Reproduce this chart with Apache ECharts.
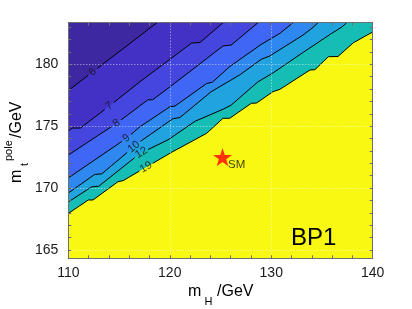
<!DOCTYPE html>
<html><head><meta charset="utf-8">
<script src="https://cdn.jsdelivr.net/npm/echarts@6/dist/echarts.min.js"></script>
<style>html,body{margin:0;padding:0;background:#fff}#c{width:412px;height:309px}</style>
</head><body><div id="c"></div>
<script>
// ---- axis ranges / ticks ----
const X_MIN = 110, X_MAX = 140;
const Y_MIN = 164.33, Y_MAX = 183.36;
const xTickValues = [110, 120, 130, 140];
const yTickValues = [165, 170, 175, 180];

// ---- contour levels and lines (mH [GeV], mt [GeV]) ----
const levels = [6, 7, 8, 9, 10, 12, 19];
const line6  = [[110,177.88],[113,179.76],[116,181.64],[118.74,183.36]];
const line7  = [[110,174.61],[110.4,174.85],[111.2,174.85],[114.04,176.63],[117.07,178.6],[122.16,181.72],[122.98,181.76],[125.25,183.36]];
const line8  = [[110,172.67],[114.75,175.23],[117.82,177.12],[118.32,177.14],[119.83,178.06],[125.25,181.48],[126.06,181.56],[128.7,183.36]];
const line9  = [[110,170.82],[115.73,174.02],[117.07,174.96],[120.02,176.57],[120.52,176.63],[123.64,178.45],[124.2,178.55],[125.9,179.81],[129,181.6],[130.86,182.5],[132.15,183.36]];
const line10 = [[110,169.6],[112.6,171.1],[113.3,171.15],[117.07,173.75],[120.3,175.6],[121.0,175.7],[124.09,177.79],[126.89,179.14],[129.02,180.4],[129.85,180.67],[133.13,182.36],[134.12,182.98],[134.61,183.36]];
const line12 = [[110,168.88],[112.3,170.1],[113,170.15],[117.07,172.8],[119.83,173.9],[122.5,175.4],[125.25,176.37],[126.06,176.71],[128.7,178.59],[130.17,179.3],[133.16,180.97],[135.96,182.5],[136.94,183.0],[137.44,183.36]];
const line19 = [[110,167.95],[111.97,169.04],[112.43,169.04],[114.9,170.52],[115.39,170.6],[120.2,172.9],[123.64,174.43],[125.25,175.64],[125.91,175.64],[128.04,176.85],[128.55,176.87],[130.17,177.79],[130.86,177.98],[133.82,179.54],[134.3,179.56],[135.62,180.61],[136.58,180.63],[138.09,181.74],[140,182.61]];
const contourLines = [line6, line7, line8, line9, line10, line12, line19];
// x position of each contour label along its line
const labelX = [112.4, 114.04, 114.75, 115.73, 116.46, 117.2, 117.66];

// SM point
const smPoint = [125.2, 172.5];
const smName = 'SM';
const panelName = 'BP1';

// colours of the region above each contour line, and the region below the last one
const aboveColors = ['#3d28a2', '#4331c6', '#4546de', '#3f66f4', '#2f88ef', '#21a3df', '#16bdb5'];
const belowColor = '#f8f812';

// ---- layout ----
const G = {left: 68.3, right: 39.3, top: 22.7, bottom: 50.7};
const W = 412, H = 309;
const pxPerX = (W - G.left - G.right) / (X_MAX - X_MIN);
const pxPerY = (H - G.top - G.bottom) / (Y_MAX - Y_MIN);
const FONT = '"Liberation Sans", Arial, Helvetica, sans-serif';

function interp(line, x) {
  for (let i = 0; i < line.length - 1; i++) {
    const a = line[i], b = line[i + 1];
    if (x >= a[0] && x <= b[0]) return a[1] + (b[1] - a[1]) * (x - a[0]) / (b[0] - a[0]);
  }
  return line[line.length - 1][1];
}

const series = [];
// filled bands: polygons from each contour line up to the top edge, highest level first
const bandOrder = contourLines.map((_, i) => [contourLines.length - 1 - i]);
series.push({
  type: 'custom', data: bandOrder, silent: true, z: 2, animation: false, clip: true,
  renderItem: function (params, api) {
    const i = api.value(0);
    const ln = contourLines[i];
    const pts = ln.map(p => api.coord(p));
    pts.push(api.coord([X_MAX, Y_MAX]));
    pts.push(api.coord([X_MIN, Y_MAX]));
    return {type: 'polygon', shape: {points: pts}, style: {fill: aboveColors[i], stroke: null}};
  }
});
// contour strokes with gaps for labels, plus labels
const labelData = [];
contourLines.forEach((ln, i) => {
  const lx = labelX[i];
  const hw = String(levels[i]).length > 1 ? 0.66 : 0.45;
  const x0 = lx - hw, x1 = lx + hw;
  const before = ln.filter(p => p[0] < x0).concat([[x0, interp(ln, x0)]]);
  const after = [[x1, interp(ln, x1)]].concat(ln.filter(p => p[0] > x1));
  [before, after].forEach(seg => series.push({
    type: 'line', data: seg, showSymbol: false, symbol: 'none', silent: true,
    lineStyle: {color: '#000', width: 1}, z: 3, animation: false
  }));
  const ly = interp(ln, lx);
  const sx = 0.9;
  const dy = (interp(ln, lx + sx) - interp(ln, lx - sx)) * pxPerY;
  const dx = 2 * sx * pxPerX;
  const ang = Math.atan2(dy, dx) * 180 / Math.PI;
  labelData.push({value: [lx, ly], label: {rotate: ang, formatter: String(levels[i])}});
});
series.push({
  type: 'scatter', data: labelData, symbolSize: 1, itemStyle: {color: 'rgba(0,0,0,0)'}, silent: true, z: 4,
  label: {show: true, position: 'inside', color: '#111', fontSize: 11, fontFamily: FONT},
  animation: false
});

function starPath() {
  let d = '';
  for (let k = 0; k < 10; k++) {
    const a = (-90 + k * 36) * Math.PI / 180, r = k % 2 ? 0.39 : 1;
    d += (k ? 'L' : 'M') + (50 + 50 * r * Math.cos(a)).toFixed(2) + ' ' + (50 + 50 * r * Math.sin(a)).toFixed(2) + ' ';
  }
  return 'path://' + d + 'Z';
}
series.push({
  type: 'scatter', data: [smPoint], symbol: starPath(), symbolSize: 19, symbolKeepAspect: true,
  itemStyle: {color: '#ff0000'}, z: 5, silent: true, animation: false,
  label: {show: true, formatter: smName, position: [15, 17], align: 'left', verticalAlign: 'middle',
          color: '#111', fontSize: 11.5, fontFamily: FONT}
});

const axisCommon = {
  type: 'value', z: 10,
  axisLine: {show: true, lineStyle: {color: '#6e6e6e', width: 1}},
  axisTick: {show: true, inside: true, length: 3, lineStyle: {color: '#6e6e6e'}},
  minorTick: {show: true, splitNumber: 5, length: 3, lineStyle: {color: '#6e6e6e'}},
  minorSplitLine: {show: false}
};
const splitLine = {show: true, showMinLine: false, showMaxLine: false,
  lineStyle: {color: 'rgba(255,255,255,0.65)', width: 1, type: [1, 2]}};

const R90 = Math.PI / 2;
function txt(text, x, y, size, rot) {
  return {type: 'text', x: x, y: y, rotation: rot || 0, z: 100,
    style: {text: text, fontSize: size, fontFamily: FONT, fill: '#000', align: 'left', verticalAlign: 'middle'}};
}

const option = {
  animation: false,
  grid: Object.assign({show: true, backgroundColor: belowColor, borderWidth: 0}, G),
  xAxis: [
    Object.assign({}, axisCommon, {position: 'bottom', min: X_MIN, max: X_MAX, interval: 10,
      axisLabel: {show: true, fontSize: 14, color: '#1a1a1a', fontFamily: FONT, margin: 8,
        formatter: v => xTickValues.includes(v) ? String(v) : ''},
      splitLine: splitLine}),
    Object.assign({}, axisCommon, {position: 'top', min: X_MIN, max: X_MAX, interval: 10,
      axisLabel: {show: false}, splitLine: {show: false}})
  ],
  yAxis: [
    Object.assign({}, axisCommon, {position: 'left', min: Y_MIN, max: Y_MAX, splitNumber: 4,
      axisLabel: {show: true, fontSize: 14, color: '#1a1a1a', fontFamily: FONT, margin: 10,
        showMinLabel: false, showMaxLabel: false,
        formatter: v => yTickValues.includes(v) ? String(v) : ''},
      splitLine: splitLine}),
    Object.assign({}, axisCommon, {position: 'right', min: Y_MIN, max: Y_MAX, splitNumber: 4,
      axisLabel: {show: false}, splitLine: {show: false}})
  ],
  series: series,
  graphic: [
    // x-axis title  m_H/GeV
    txt('m', 188, 291.5, 16),
    txt('H', 204.5, 301.5, 11),
    txt('/GeV', 217, 291.5, 16),
    // y-axis title  m_t^pole/GeV (reads bottom to top)
    txt('m', 16.5, 183, 16, R90),
    txt('t', 25, 166, 11, R90),
    txt('pole', 9, 161, 11, R90),
    txt('/GeV', 16.5, 138, 16, R90),
    // panel name
    txt(panelName, 291, 238, 24)
  ]
};
const chart = echarts.init(document.getElementById('c'), null, {renderer: 'canvas'});
chart.setOption(option);
</script>
</body></html>
